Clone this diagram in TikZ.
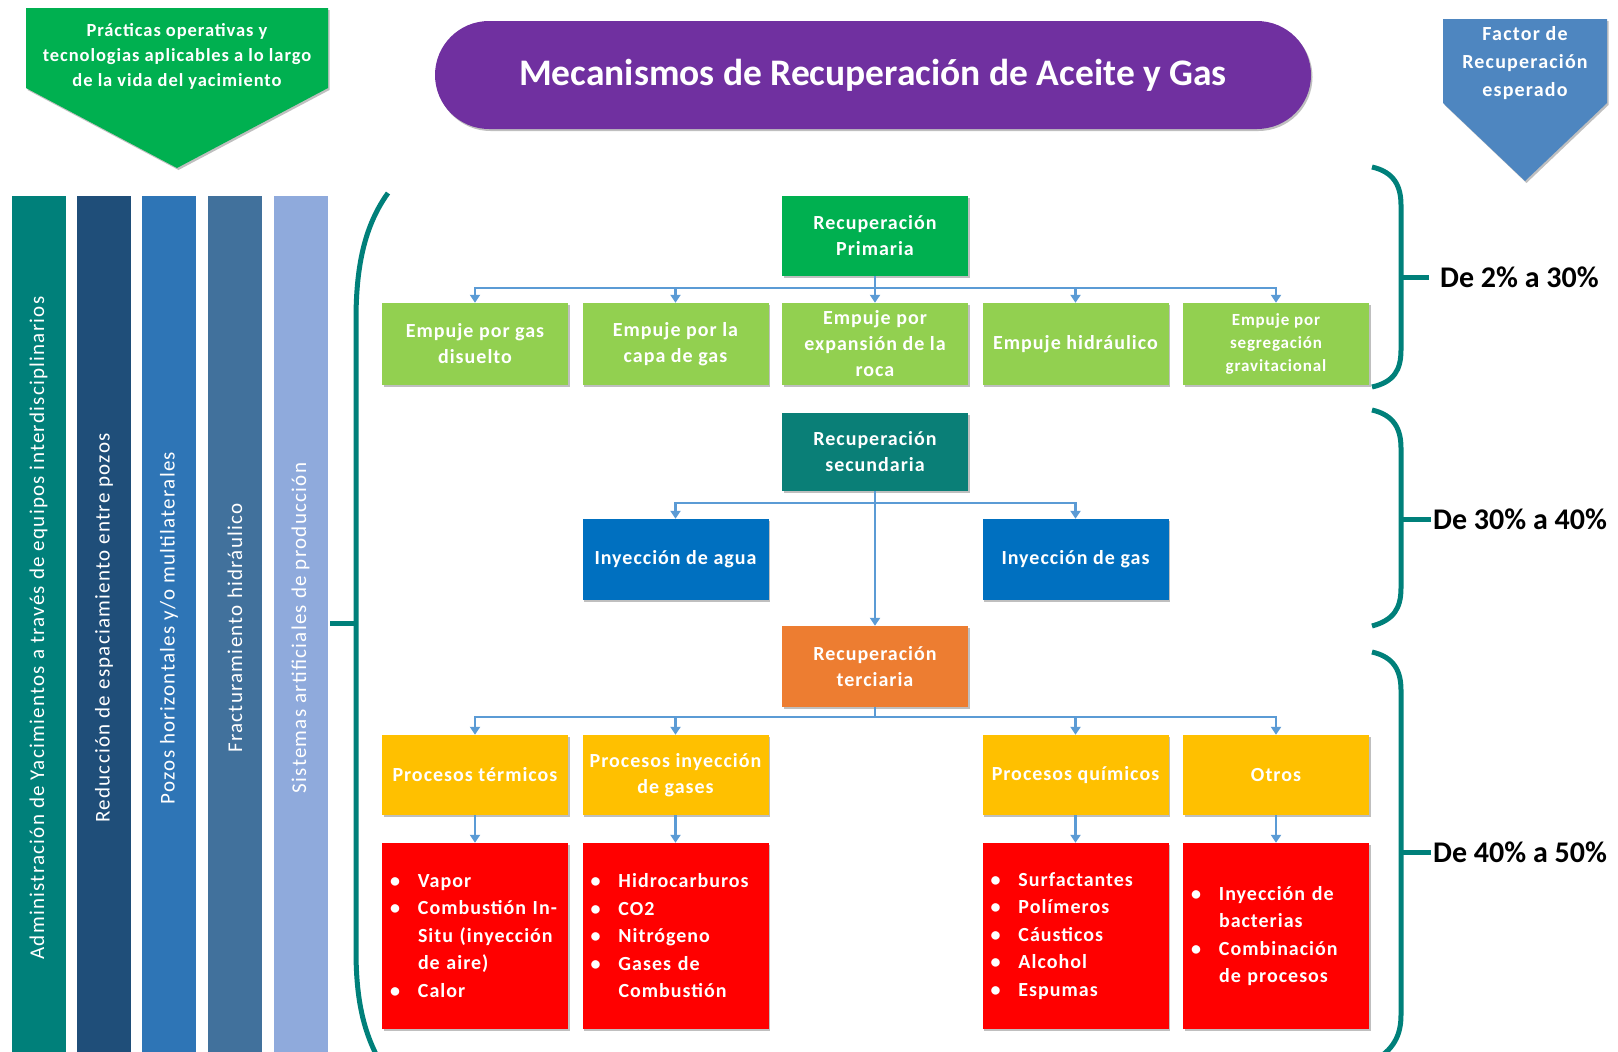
\documentclass[tikz,border=0pt]{standalone}
\usepackage{fontspec}
\setmainfont{Carlito}
\usetikzlibrary{arrows.meta,shadows}
\definecolor{cGreen}{HTML}{00B050}
\definecolor{cLime}{HTML}{92D050}
\definecolor{cPurple}{HTML}{7030A0}
\definecolor{cSteel}{HTML}{4E86C0}
\definecolor{cTeal}{HTML}{00807A}
\definecolor{cNavy}{HTML}{1F4E79}
\definecolor{cBlueA}{HTML}{2E75B6}
\definecolor{cBlueB}{HTML}{41719C}
\definecolor{cPeri}{HTML}{8FAADC}
\definecolor{cSec}{HTML}{0A7F77}
\definecolor{cBlue}{HTML}{0070C0}
\definecolor{cOrange}{HTML}{ED7D31}
\definecolor{cYellow}{HTML}{FFC000}
\definecolor{cRed}{HTML}{FF0000}
\definecolor{cConn}{HTML}{5B9BD5}
\newcommand{\spaced}[1]{\addfontfeature{LetterSpace=#1}}
\begin{document}
\begin{tikzpicture}[x=1pt,y=-1pt,
  shad/.style={drop shadow={shadow xshift=1.5pt,shadow yshift=-2pt,opacity=0.25,fill=black}},
  box/.style={shad,draw=none,minimum width=186pt,inner sep=2pt,align=center,text=white,
    font=\bfseries\fontsize{20}{26}\selectfont\spaced{5}},
  redbox/.style={box,fill=cRed,minimum height=186pt,align=left,text width=178pt,inner xsep=4pt,
    font=\bfseries\fontsize{20}{27.5}\selectfont\spaced{5}},
  bar/.style={rotate=90,minimum width=864pt,minimum height=54pt,inner sep=0pt,text=white,
    font=\fontsize{21}{24}\selectfont\spaced{6}},
  conn/.style={draw=cConn,line width=2.5pt},
  arr/.style={conn,-{Triangle[length=8pt,width=10pt]}},
  brace/.style={draw=cTeal,line width=5pt},
  pct/.style={anchor=west,font=\bfseries\fontsize{30}{33}\selectfont,text=black,inner sep=0pt}
]
\useasboundingbox (0,0) rectangle (1618,1052);

% top-left green arrow
\fill[cGreen,shad] (26,8) -- (328,8) -- (328,88) -- (177,168) -- (26,88) -- cycle;
\node[text=white,align=center,font=\bfseries\fontsize{18.5}{25}\selectfont\spaced{5}] (practicas) at (177,56)
  {Prácticas operativas y\\tecnologias aplicables a lo largo\\de la vida del yacimiento};

% title
\node[shad,fill=cPurple,minimum width=876pt,minimum height=108pt,rounded corners=54pt,
  text=white,font=\bfseries\fontsize{37.5}{40}\selectfont] (title) at (873,75)
  {Mecanismos de Recuperación de Aceite y Gas};

% top-right arrow
\fill[cSteel,shad] (1443,19) -- (1607,19) -- (1607,103) -- (1525,181) -- (1443,103) -- cycle;
\node[text=white,align=center,font=\bfseries\fontsize{20}{28}\selectfont\spaced{6}] (factor) at (1525,63)
  {Factor de\\Recuperación\\esperado};

% vertical bars
\node[bar,fill=cTeal] (bar1) at (38.5,628) {Administración de Yacimientos a través de equipos interdisciplinarios};
\node[bar,fill=cNavy] (bar2) at (104,628) {Reducción de espaciamiento entre pozos};
\node[bar,fill=cBlueA] (bar3) at (169,628) {Pozos horizontales y/o multilaterales};
\node[bar,fill=cBlueB] (bar4) at (235,628) {Fracturamiento hidráulico};
\node[bar,fill=cPeri] (bar5) at (300.5,628) {Sistemas artificiales de producción};

% left big brace
\draw[brace] (388,193) .. controls (365,225) and (356,265) .. (356,320) -- (356,950)
  .. controls (356,1005) and (365,1040) .. (388,1075);
\draw[brace] (330,623) -- (356,623);

% right braces
\draw[brace] (1372,167) .. controls (1394,172) and (1401,186) .. (1401,205) -- (1401,350)
  .. controls (1401,370) and (1394,382) .. (1372,387);
\draw[brace] (1401,277) -- (1429,277);
\node[pct] (p1) at (1440,277) {De 2\% a 30\%};

\draw[brace] (1372,410) .. controls (1394,415) and (1401,429) .. (1401,448) -- (1401,588)
  .. controls (1401,608) and (1394,620) .. (1372,626);
\draw[brace] (1401,519) -- (1431,519);
\node[pct] (p2) at (1433,519) {De 30\% a 40\%};

\draw[brace] (1372,652) .. controls (1394,657) and (1401,671) .. (1401,690) -- (1401,1015)
  .. controls (1401,1035) and (1394,1050) .. (1372,1062);
\draw[brace] (1401,852) -- (1431,852);
\node[pct] (p3) at (1433,852) {De 40\% a 50\%};

% primary
\node[box,fill=cGreen,minimum height=80pt] (prim) at (875,236) {Recuperación\\Primaria};
\node[box,fill=cLime,minimum height=82pt] (e1) at (475,344) {Empuje por gas\\disuelto};
\node[box,fill=cLime,minimum height=82pt] (e2) at (675.5,344) {Empuje por la\\capa de gas};
\node[box,fill=cLime,minimum height=82pt] (e3) at (875,344) {Empuje por\\expansión de la\\roca};
\node[box,fill=cLime,minimum height=82pt] (e4) at (1075.5,344) {Empuje hidráulico};
\node[box,fill=cLime,minimum height=82pt,font=\bfseries\fontsize{17}{23}\selectfont\spaced{5}] (e5) at (1276,344) {Empuje por\\segregación\\gravitacional};
\coordinate (busP) at (875,288);
\draw[conn] (prim.south) -- (busP);
\foreach \n in {e1,e2,e3,e4,e5} \draw[arr] (busP) -| (\n.north);

% secondary
\node[box,fill=cSec,minimum height=78pt] (sec) at (875,452) {Recuperación\\secundaria};
\node[box,fill=cBlue,minimum height=81pt] (agua) at (675.5,559.5) {Inyección de agua};
\node[box,fill=cBlue,minimum height=81pt] (gas) at (1075.5,559.5) {Inyección de gas};
\coordinate (busS) at (875,503);
\draw[arr] (busS) -| (agua.north);
\draw[arr] (busS) -| (gas.north);

% tertiary
\node[box,fill=cOrange,minimum height=81pt] (ter) at (875,666.5) {Recuperación\\terciaria};
\draw[arr] (sec.south) -- (ter.north);
\node[box,fill=cYellow,minimum height=80pt] (y1) at (475,775) {Procesos térmicos};
\node[box,fill=cYellow,minimum height=80pt] (y2) at (675.5,775) {Procesos inyección\\de gases};
\node[box,fill=cYellow,minimum height=80pt] (y4) at (1075.5,775) {Procesos químicos};
\node[box,fill=cYellow,minimum height=80pt] (y5) at (1276,775) {Otros};
\coordinate (busT) at (875,717);
\draw[conn] (ter.south) -- (busT);
\foreach \n in {y1,y2,y4,y5} \draw[arr] (busT) -| (\n.north);

\newcommand{\bul}{\hspace*{4pt}\makebox[28pt][l]{\textbullet}}
\newcommand{\ind}{\hspace*{32pt}}
\node[redbox] (r1) at (475,936) {\bul Vapor\\\bul Combustión In-\\\ind Situ (inyección\\\ind de aire)\\\bul Calor};
\node[redbox] (r2) at (675.5,936) {\bul Hidrocarburos\\\bul CO2\\\bul Nitrógeno\\\bul Gases de\\\ind Combustión};
\node[redbox] (r4) at (1075.5,936) {\bul Surfactantes\\\bul Polímeros\\\bul Cáusticos\\\bul Alcohol\\\bul Espumas};
\node[redbox] (r5) at (1276,936) {\bul Inyección de\\\ind bacterias\\\bul Combinación\\\ind de procesos};
\draw[arr] (y1.south) -- (r1.north);
\draw[arr] (y2.south) -- (r2.north);
\draw[arr] (y4.south) -- (r4.north);
\draw[arr] (y5.south) -- (r5.north);
\end{tikzpicture}
\end{document}
